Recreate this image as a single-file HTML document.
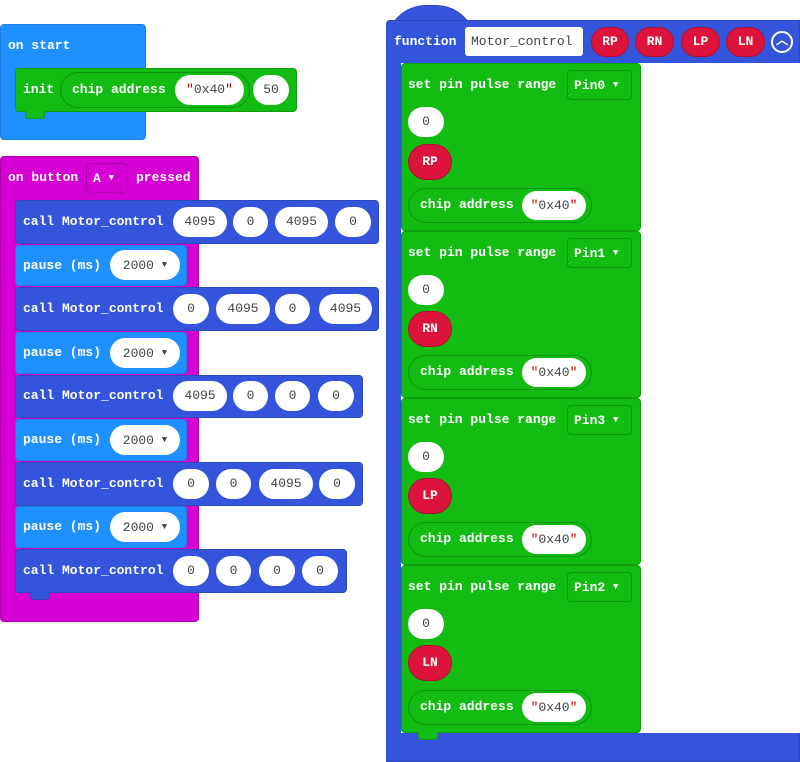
<!DOCTYPE html>
<html><head><style>
body{margin:0;width:800px;height:762px;background:#fff;position:relative;overflow:hidden;font-family:"Liberation Mono",monospace;font-size:13px;font-weight:bold}
div{position:absolute;box-sizing:border-box}
.b{border-radius:4px}
.sb{background:#1e90ff;border:1px solid #1a7fe0}
.mg{background:#d400d4;border:1px solid #b000b0}
.db{background:#3455db;border:1px solid #2c48bd}
.gr{background:#12bc12;border:1px solid #0e9e0e}
.t{color:#fff;white-space:nowrap;line-height:16px}
.p{background:#fff;border-radius:15px;height:30px;color:#444;font-weight:normal;text-align:center;line-height:30px}
.v{background:#dc143c;border-radius:18px;color:#fff;text-align:center;border:1px solid #b01030}
.q{color:#c00}
.a{font-size:9px;vertical-align:2px}
.dd{border:1px solid #0b930b;border-radius:4px;color:#fff;line-height:28px;padding-left:6px;height:30px}
.cp{background:#12bc12;border:1px solid #0b930b;border-radius:18px}
.n{width:20px;height:8px;border-radius:0 0 4px 4px}
</style></head><body>

<!-- on start -->
<div class="b sb" style="left:0;top:24px;width:146px;height:116px"></div>
<div class="t" style="left:8px;top:38px">on start</div>
<div class="b gr" style="left:15px;top:68px;width:282px;height:44px"></div>
<div class="n gr" style="left:25px;top:111px;border-top:none"></div>
<div class="t" style="left:23px;top:82px">init</div>
<div class="cp" style="left:60px;top:72px;width:190px;height:36px"></div>
<div class="t" style="left:72px;top:82px">chip address</div>
<div class="p" style="left:175px;top:75px;width:69px"><span class="q">"</span>0x40<span class="q">"</span></div>
<div class="p" style="left:253px;top:75px;width:36px">50</div>

<!-- on button -->
<div class="b mg" style="left:0;top:156px;width:199px;height:466px"></div>
<div class="t" style="left:8px;top:170px">on button</div>
<div class="dd" style="left:86px;top:163px;width:42px;border-color:#a800a8">A <span class="a">▼</span></div>
<div class="t" style="left:136px;top:170px">pressed</div>

<div class="b db" style="left:15px;top:200px;width:364px;height:44px"></div>
<div class="t" style="left:23px;top:214px">call Motor_control</div>
<div class="p" style="left:173px;top:207px;width:54px">4095</div>
<div class="p" style="left:233px;top:207px;width:35px">0</div>
<div class="p" style="left:275px;top:207px;width:53px">4095</div>
<div class="p" style="left:335px;top:207px;width:36px">0</div>

<div class="b sb" style="left:15px;top:245px;width:172px;height:41px"></div>
<div class="t" style="left:23px;top:258px">pause (ms)</div>
<div class="p" style="left:110px;top:250px;width:70px">2000 <span class="a">▼</span></div>

<div class="b db" style="left:15px;top:287px;width:364px;height:44px"></div>
<div class="t" style="left:23px;top:301px">call Motor_control</div>
<div class="p" style="left:173px;top:294px;width:36px">0</div>
<div class="p" style="left:216px;top:294px;width:54px">4095</div>
<div class="p" style="left:275px;top:294px;width:35px">0</div>
<div class="p" style="left:319px;top:294px;width:53px">4095</div>

<div class="b sb" style="left:15px;top:332px;width:172px;height:42px"></div>
<div class="t" style="left:23px;top:345px">pause (ms)</div>
<div class="p" style="left:110px;top:338px;width:70px">2000 <span class="a">▼</span></div>

<div class="b db" style="left:15px;top:375px;width:348px;height:43px"></div>
<div class="t" style="left:23px;top:388px">call Motor_control</div>
<div class="p" style="left:173px;top:381px;width:54px">4095</div>
<div class="p" style="left:233px;top:381px;width:35px">0</div>
<div class="p" style="left:275px;top:381px;width:35px">0</div>
<div class="p" style="left:318px;top:381px;width:36px">0</div>

<div class="b sb" style="left:15px;top:419px;width:172px;height:42px"></div>
<div class="t" style="left:23px;top:432px">pause (ms)</div>
<div class="p" style="left:110px;top:425px;width:70px">2000 <span class="a">▼</span></div>

<div class="b db" style="left:15px;top:462px;width:348px;height:44px"></div>
<div class="t" style="left:23px;top:476px">call Motor_control</div>
<div class="p" style="left:173px;top:469px;width:36px">0</div>
<div class="p" style="left:216px;top:469px;width:35px">0</div>
<div class="p" style="left:259px;top:469px;width:54px">4095</div>
<div class="p" style="left:319px;top:469px;width:36px">0</div>

<div class="b sb" style="left:15px;top:506px;width:172px;height:42px"></div>
<div class="t" style="left:23px;top:519px">pause (ms)</div>
<div class="p" style="left:110px;top:512px;width:70px">2000 <span class="a">▼</span></div>

<div class="b db" style="left:15px;top:549px;width:332px;height:44px"></div>
<div class="n db" style="left:30px;top:592px;border-top:none"></div>
<div class="t" style="left:23px;top:563px">call Motor_control</div>
<div class="p" style="left:173px;top:556px;width:36px">0</div>
<div class="p" style="left:216px;top:556px;width:35px">0</div>
<div class="p" style="left:259px;top:556px;width:36px">0</div>
<div class="p" style="left:302px;top:556px;width:36px">0</div>

<!-- function -->
<div class="db" style="left:386px;top:5px;width:90px;height:40px;border-radius:45px 45px 0 0;border-bottom:none"></div>
<div class="db" style="left:386px;top:20px;width:414px;height:742px;border-radius:4px 0 0 0"></div>
<div style="left:401px;top:63px;width:399px;height:670px;background:#fff"></div>
<div class="t" style="left:394px;top:34px">function</div>
<div style="left:465px;top:27px;width:118px;height:29px;background:#fff;border-radius:3px;color:#444;font-weight:normal;line-height:29px;padding-left:6px">Motor_control</div>
<div class="v" style="left:591px;top:27px;width:38px;height:30px;line-height:28px">RP</div>
<div class="v" style="left:635px;top:27px;width:39px;height:30px;line-height:28px">RN</div>
<div class="v" style="left:681px;top:27px;width:39px;height:30px;line-height:28px">LP</div>
<div class="v" style="left:726px;top:27px;width:39px;height:30px;line-height:28px">LN</div>
<div style="left:771px;top:31px;width:22px;height:22px;border:2px solid #fff;border-radius:50%;color:#fff;font-size:12px;text-align:center;line-height:17px">︿</div>

<!-- green blocks -->
<div class="b gr" style="left:401px;top:63px;width:240px;height:168px"></div>
<div class="t" style="left:408px;top:77px">set pin pulse range</div>
<div class="dd" style="left:567px;top:70px;width:65px">Pin0 <span class="a">▼</span></div>
<div class="p" style="left:408px;top:107px;width:36px">0</div>
<div class="v" style="left:408px;top:144px;width:44px;height:36px;line-height:34px">RP</div>
<div class="cp" style="left:408px;top:188px;width:184px;height:35px"></div>
<div class="t" style="left:420px;top:197px">chip address</div>
<div class="p" style="left:522px;top:191px;width:64px;height:29px;line-height:29px"><span class="q">"</span>0x40<span class="q">"</span></div>

<div class="b gr" style="left:401px;top:231px;width:240px;height:167px"></div>
<div class="t" style="left:408px;top:245px">set pin pulse range</div>
<div class="dd" style="left:567px;top:238px;width:65px">Pin1 <span class="a">▼</span></div>
<div class="p" style="left:408px;top:275px;width:36px">0</div>
<div class="v" style="left:408px;top:311px;width:44px;height:36px;line-height:34px">RN</div>
<div class="cp" style="left:408px;top:355px;width:184px;height:35px"></div>
<div class="t" style="left:420px;top:364px">chip address</div>
<div class="p" style="left:522px;top:358px;width:64px;height:29px;line-height:29px"><span class="q">"</span>0x40<span class="q">"</span></div>

<div class="b gr" style="left:401px;top:398px;width:240px;height:167px"></div>
<div class="t" style="left:408px;top:412px">set pin pulse range</div>
<div class="dd" style="left:567px;top:405px;width:65px">Pin3 <span class="a">▼</span></div>
<div class="p" style="left:408px;top:442px;width:36px">0</div>
<div class="v" style="left:408px;top:478px;width:44px;height:36px;line-height:34px">LP</div>
<div class="cp" style="left:408px;top:522px;width:184px;height:35px"></div>
<div class="t" style="left:420px;top:531px">chip address</div>
<div class="p" style="left:522px;top:525px;width:64px;height:29px;line-height:29px"><span class="q">"</span>0x40<span class="q">"</span></div>

<div class="b gr" style="left:401px;top:565px;width:240px;height:168px"></div>
<div class="n gr" style="left:418px;top:732px;border-top:none"></div>
<div class="t" style="left:408px;top:579px">set pin pulse range</div>
<div class="dd" style="left:567px;top:572px;width:65px">Pin2 <span class="a">▼</span></div>
<div class="p" style="left:408px;top:609px;width:36px">0</div>
<div class="v" style="left:408px;top:645px;width:44px;height:36px;line-height:34px">LN</div>
<div class="cp" style="left:408px;top:690px;width:184px;height:35px"></div>
<div class="t" style="left:420px;top:699px">chip address</div>
<div class="p" style="left:522px;top:693px;width:64px;height:29px;line-height:29px"><span class="q">"</span>0x40<span class="q">"</span></div>

</body></html>
